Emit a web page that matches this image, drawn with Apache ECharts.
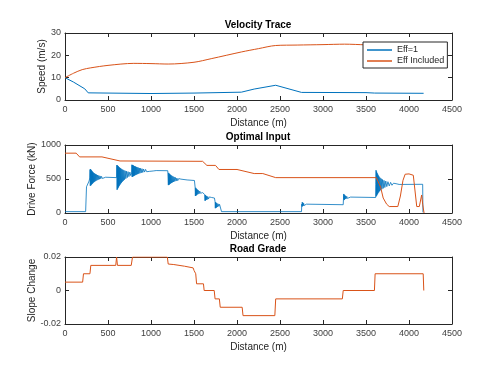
<!DOCTYPE html>
<html>
<head>
<meta charset="utf-8">
<script src="https://cdn.jsdelivr.net/npm/echarts@6/dist/echarts.min.js"></script>
<style>
  html, body { margin: 0; padding: 0; background: #fff; }
  #chart { width: 500px; height: 375px; }
</style>
</head>
<body>
<div id="chart"></div>
<script>
// ---- data ----
var xTicks = [0, 500, 1000, 1500, 2000, 2500, 3000, 3500, 4000, 4500];

// velocity trace (distance m, speed m/s)
var speedEffOne = [[0,10],[100,8],[230,5],[270,3.2],[500,3.1],[1000,2.9],[1500,3.1],[2050,3.5],[2200,4.9],[2450,6.6],[2750,3.4],[3500,3.3],[3600,3.1],[4170,3.0]];
var speedEffInc = [[0,10],[100,12],[200,13.6],[300,14.4],[500,15.5],[800,16.4],[1000,16.3],[1200,16.1],[1500,16.9],[1700,18.5],[2050,21.5],[2250,23],[2450,24.4],[2700,24.6],[3000,24.8],[3250,25],[3500,24.7],[3700,24.5],[4170,24.3]];

// optimal input (distance m, drive force kN)
var forceEffOne = [
  [0,20],[240,20],[250,385],[265,400],[280,470],[288,515],[291,640],[294,400],[297,645],[300,405],[303,635],[306,415],[309,625],[312,425],[315,615],[318,432],[321,605],[325,440],[329,596],[333,450],[337,588],[341,458],[346,580],[351,466],[356,572],[361,474],[367,565],[373,482],[379,558],[386,490],[393,551],[400,497],[408,545],[416,503],[425,538],[435,508],[446,532],[458,513],[472,526],[490,518],[600,520],
  [603,705],[606,340],[609,700],[612,355],[615,692],[618,370],[621,685],[624,385],[627,676],[631,400],[635,668],[639,415],[643,660],[647,430],[652,652],[657,445],[662,643],[667,460],[673,636],[679,475],[685,628],[692,490],[699,621],[707,505],[715,614],[724,520],[733,608],[743,535],[754,602],[765,550],[775,590],
  [778,710],[781,530],[784,706],[787,535],[790,702],[793,540],[796,697],[799,545],[803,692],[807,550],[811,688],[815,555],[819,683],[824,560],[829,678],[834,566],[839,673],[845,572],[851,668],[857,578],[864,662],[871,584],[878,657],[886,590],[895,652],[904,596],[914,646],[925,602],[937,641],[950,607],[965,636],[980,612],[1000,630],[1025,618],[1060,624],[1195,622],
  [1200,620],[1202,410],[1205,590],[1208,415],[1211,580],[1214,420],[1217,572],[1221,428],[1225,563],[1229,435],[1234,555],[1239,442],[1244,546],[1250,450],[1256,538],[1262,457],[1269,530],[1276,464],[1284,522],[1292,470],[1301,514],[1311,476],[1322,506],[1334,481],[1348,498],[1365,485],[1420,486],[1505,478],
  [1510,470],[1513,380],[1516,250],[1519,372],[1522,255],[1525,362],[1528,262],[1532,352],[1536,270],[1541,342],[1546,277],[1552,332],[1559,283],[1567,322],[1576,290],[1588,310],[1600,300],[1618,298],
  [1622,290],[1625,270],[1628,180],[1631,265],[1634,185],[1638,255],[1642,192],[1647,248],[1653,198],[1660,242],[1668,205],[1678,236],[1690,212],[1705,228],[1725,220],[1738,220],
  [1742,215],[1745,165],[1748,70],[1751,160],[1754,75],[1758,150],[1762,82],[1767,142],[1773,90],[1780,135],[1788,98],[1797,128],[1806,110],[1815,118],[1820,20],
  [2750,20],[2753,130],[2756,95],[2759,160],[2762,100],[2766,150],[2770,105],[2775,142],[2781,110],[2788,136],[2796,115],[2806,130],[2820,120],[3235,122],
  [3238,200],[3241,280],[3244,190],[3247,270],[3250,198],[3254,260],[3258,205],[3263,252],[3269,210],[3276,245],[3284,215],[3294,240],[3306,220],[3320,234],[3340,226],[3612,228],
  [3615,420],[3617,630],[3620,245],[3623,610],[3626,260],[3629,590],[3632,275],[3636,570],[3640,290],[3644,552],[3648,305],[3653,535],[3658,320],[3664,518],[3670,335],[3677,505],[3684,350],[3692,492],[3700,362],[3709,480],[3719,375],[3730,470],[3742,388],[3755,460],[3770,398],[3786,450],[3802,408],[3820,438],[3840,415],[3860,428],[3885,420],[4159,422],[4162,10]
];
var forceEffInc = [[0,880],[130,880],[170,825],[430,825],[640,765],[1600,760],[1650,700],[1750,700],[1790,640],[2000,640],[2200,580],[2300,580],[2450,520],[3620,520],[3640,510],[3670,380],[3700,220],[3740,130],[3770,95],[3870,95],[3900,250],[3930,480],[3955,570],[4000,575],[4050,555],[4070,550],[4090,95],[4120,95],[4147,265],[4160,120],[4175,0]];

// road grade (distance m, slope change)
var grade = [[0,0.005],[205,0.005],[215,0.01],[290,0.01],[300,0.015],[590,0.015],[600,0.02],[610,0.015],[770,0.015],[785,0.02],[1190,0.02],[1200,0.0158],[1265,0.0155],[1275,0.0145],[1390,0.0145],[1400,0.0137],[1490,0.0135],[1500,0.012],[1520,0.01],[1530,0.004],[1610,0.004],[1618,0],[1735,0],[1745,-0.005],[1795,-0.005],[1805,-0.01],[2060,-0.01],[2070,-0.015],[2440,-0.015],[2450,-0.005],[3225,-0.005],[3235,0],[3598,0],[3606,0.01],[4165,0.01],[4172,0]];

var blue = '#0072BD';
var orange = '#D95319';
var axisCol = '#262626';
var font = 'Liberation Sans, Arial, Helvetica, sans-serif';

var grids = [
  {left: 65, right: 48, top: 33, height: 67},
  {left: 65, right: 48, top: 145, height: 68},
  {left: 65, right: 48, top: 257, height: 67}
];

function plain(v) {
  return String(v);
}

function xAx(g, pos) {
  return {
    type: 'value', gridIndex: g, position: pos, min: 0, max: 4500, interval: 500,
    name: pos === 'bottom' ? 'Distance (m)' : '',
    nameLocation: 'middle', nameGap: 18, nameMoveOverlap: false,
    nameTextStyle: {color: axisCol, fontSize: 10, fontFamily: font},
    axisLine: {onZero: false, lineStyle: {color: axisCol, width: 1}},
    axisTick: {inside: true, length: 4, lineStyle: {color: axisCol}},
    axisLabel: {show: pos === 'bottom', margin: 5, color: '#404040', fontSize: 9, fontFamily: font, formatter: plain},
    splitLine: {show: false}
  };
}
function yAx(g, pos, min, max, step, name, gap) {
  return {
    type: 'value', gridIndex: g, position: pos, min: min, max: max, interval: step,
    name: pos === 'left' ? name : '',
    nameLocation: 'middle', nameGap: gap, nameMoveOverlap: false,
    nameTextStyle: {color: axisCol, fontSize: 10, fontFamily: font},
    axisLine: {show: true, onZero: false, lineStyle: {color: axisCol, width: 1}},
    axisTick: {show: true, inside: true, length: 4, lineStyle: {color: axisCol}},
    axisLabel: {show: pos === 'left', margin: 4, color: '#404040', fontSize: 9, fontFamily: font, formatter: plain},
    splitLine: {show: false}
  };
}

var titles = ['Velocity Trace', 'Optimal Input', 'Road Grade'];
var titleTops = [20, 132, 244];

var option = {
  backgroundColor: '#fff',
  animation: false,
  title: titles.map(function (t, i) {
    return {
      text: t, left: 258, top: titleTops[i], textAlign: 'center', padding: 0,
      textStyle: {fontSize: 10, fontWeight: 'bold', color: '#000', fontFamily: font}
    };
  }),
  legend: {
    data: ['Eff=1', 'Eff Included'],
    orient: 'vertical', left: 363, top: 42,
    icon: 'rect',
    backgroundColor: '#fff', borderColor: axisCol, borderWidth: 1,
    padding: [3, 3, 2, 4], itemGap: 1, itemWidth: 25, itemHeight: 1.5,
    textStyle: {fontSize: 9, lineHeight: 10, color: axisCol, fontFamily: font}
  },
  grid: grids,
  xAxis: [xAx(0, 'bottom'), xAx(0, 'top'), xAx(1, 'bottom'), xAx(1, 'top'), xAx(2, 'bottom'), xAx(2, 'top')],
  yAxis: [
    yAx(0, 'left', 0, 30, 10, 'Speed (m/s)', 18), yAx(0, 'right', 0, 30, 10, '', 0),
    yAx(1, 'left', 0, 1000, 500, 'Drive Force (kN)', 28), yAx(1, 'right', 0, 1000, 500, '', 0),
    yAx(2, 'left', -0.02, 0.02, 0.02, 'Slope Change', 28), yAx(2, 'right', -0.02, 0.02, 0.02, '', 0)
  ],
  series: [
    {name: 'Eff=1', type: 'line', xAxisIndex: 0, yAxisIndex: 0, data: speedEffOne, symbol: 'none', lineStyle: {color: blue, width: 1}, itemStyle: {color: blue}},
    {name: 'Eff Included', type: 'line', xAxisIndex: 0, yAxisIndex: 0, data: speedEffInc, symbol: 'none', smooth: 0.3, lineStyle: {color: orange, width: 1}, itemStyle: {color: orange}},
    {name: 'force1', type: 'line', xAxisIndex: 2, yAxisIndex: 2, data: forceEffOne, symbol: 'none', lineStyle: {color: blue, width: 0.8}},
    {name: 'force2', type: 'line', xAxisIndex: 2, yAxisIndex: 2, data: forceEffInc, symbol: 'none', lineStyle: {color: orange, width: 1}},
    {name: 'grade', type: 'line', xAxisIndex: 4, yAxisIndex: 4, data: grade, symbol: 'none', lineStyle: {color: orange, width: 1}}
  ]
};

var chart = echarts.init(document.getElementById('chart'));
chart.setOption(option);
</script>
</body>
</html>
